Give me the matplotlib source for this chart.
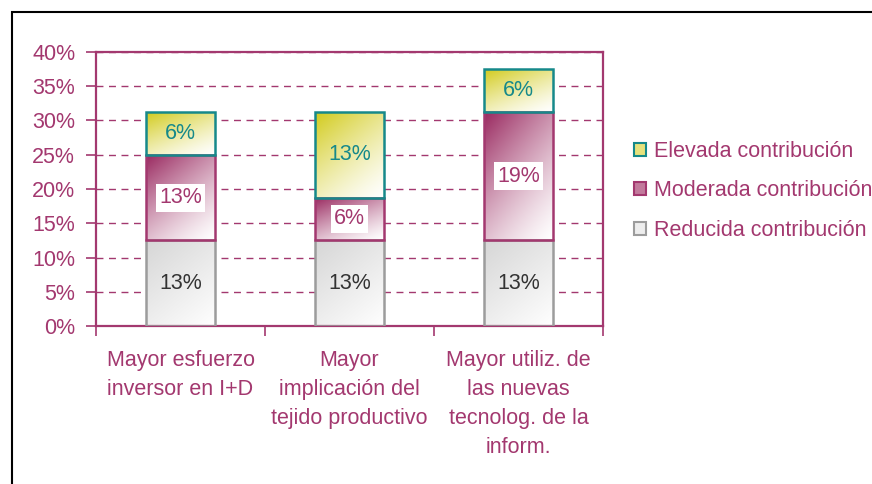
import numpy as np
import matplotlib.pyplot as plt
from matplotlib.colors import to_rgb
from matplotlib.patches import Patch, Rectangle

plt.rcParams['font.family'] = ['Liberation Sans', 'DejaVu Sans']

# data
categories = [
    "Mayor esfuerzo\ninversor en I+D",
    "Mayor\nimplicación del\ntejido productivo",
    "Mayor utiliz. de\nlas nuevas\ntecnolog. de la\ninform.",
]
reducida = [12.5, 12.5, 12.5]
moderada = [12.5, 6.25, 18.75]
elevada = [6.25, 12.5, 6.25]
series_names = ["Reducida contribución", "Moderada contribución", "Elevada contribución"]
y_ticks = [0, 5, 10, 15, 20, 25, 30, 35, 40]

MAROON = '#A3386F'
TEAL = '#16898A'
GRAY_EDGE = '#9C9C9C'


def pct(v):
    return f"{int(np.floor(v + 0.5))}%"


def gradient_fill(ax, bar, color, power):
    x0, y0 = bar.get_x(), bar.get_y()
    w, h = bar.get_width(), bar.get_height()
    u = np.linspace(0, 1, 80)
    v = np.linspace(1, 0, 80)
    U, V = np.meshgrid(u, v)
    t = np.clip(0.6 * V + 0.4 * (1 - U), 0, 1) ** power
    rgb = np.array(to_rgb(color))
    img = 1 - (1 - rgb) * t[..., None]
    im = ax.imshow(img, extent=[x0, x0 + w, y0, y0 + h], origin='upper',
                   aspect='auto', zorder=2, interpolation='bilinear')
    im.set_clip_path(bar)


fig = plt.figure(figsize=(8.72, 4.84), dpi=100)
ax = fig.add_axes([96 / 872, 1 - 326 / 484, 507 / 872, 274 / 484])

x = np.arange(len(categories))
width = 0.414

bottom2 = np.array(reducida)
bottom3 = bottom2 + np.array(moderada)

bars_r = ax.bar(x, reducida, width, facecolor='none', edgecolor=GRAY_EDGE,
                linewidth=1.8, zorder=3)
bars_m = ax.bar(x, moderada, width, bottom=bottom2, facecolor='none',
                edgecolor=MAROON, linewidth=1.8, zorder=3)
bars_e = ax.bar(x, elevada, width, bottom=bottom3, facecolor='none',
                edgecolor=TEAL, linewidth=1.8, zorder=3)

for b in bars_r:
    gradient_fill(ax, b, '#D6D6D6', 1.0)
for b in bars_m:
    gradient_fill(ax, b, '#99285F', 1.3)
for b in bars_e:
    gradient_fill(ax, b, '#D2CB1C', 1.3)

# value labels
for i in range(len(categories)):
    ax.text(x[i], reducida[i] / 2, pct(reducida[i]), ha='center', va='center',
            color='#333333', fontsize=15.5, zorder=5)
    ax.text(x[i], bottom2[i] + moderada[i] / 2, pct(moderada[i]), ha='center',
            va='center', color=MAROON, fontsize=15.5, zorder=5,
            bbox=dict(facecolor='white', edgecolor='none', pad=2.5))
    ax.text(x[i], bottom3[i] + elevada[i] / 2, pct(elevada[i]), ha='center',
            va='center', color=TEAL, fontsize=15.5, zorder=5)

ax.set_xlim(-0.5, 2.5)
ax.set_ylim(0, 40)

ax.set_yticks(y_ticks, labels=[f"{v}%" for v in y_ticks])
ax.tick_params(axis='y', length=7, width=1.2, color=MAROON, labelcolor=MAROON,
               labelsize=15.5, pad=8)

ax.set_xticks([-0.5, 0.5, 1.5, 2.5], labels=[])
ax.tick_params(axis='x', which='major', length=7, width=1.2, color=MAROON)
ax.set_xticks(x, labels=categories, minor=True)
ax.tick_params(axis='x', which='minor', length=0, labelcolor=MAROON,
               labelsize=15.5, pad=17)
for lbl in ax.get_xticklabels(minor=True):
    lbl.set_linespacing(1.5)
    lbl.set_verticalalignment('top')

ax.yaxis.grid(True, linestyle=(0, (5, 4)), color=MAROON, linewidth=1)
ax.set_axisbelow(True)

for s in ax.spines.values():
    s.set_color(MAROON)
    s.set_linewidth(1.6)

# legend
handles = [
    Patch(facecolor='#E6E27C', edgecolor=TEAL, linewidth=1.5),
    Patch(facecolor='#C27A9C', edgecolor=MAROON, linewidth=1.5),
    Patch(facecolor='#EDEDED', edgecolor=GRAY_EDGE, linewidth=1.5),
]
leg = fig.legend(handles, series_names[::-1], loc='center left',
                 bbox_to_anchor=(634 / 872, 1 - 191 / 484), frameon=False,
                 handlelength=0.55, handleheight=0.55, handletextpad=0.4,
                 labelspacing=0.85, fontsize=15.5, borderpad=0, borderaxespad=0)
for t in leg.get_texts():
    t.set_color(MAROON)

# outer frame
fig.add_artist(Rectangle((12 / 872, -0.1), 1.2, 1 - 12 / 484 + 0.1,
                         transform=fig.transFigure, fill=False,
                         edgecolor='black', linewidth=1.5))

fig.savefig("out.png", dpi=100)
